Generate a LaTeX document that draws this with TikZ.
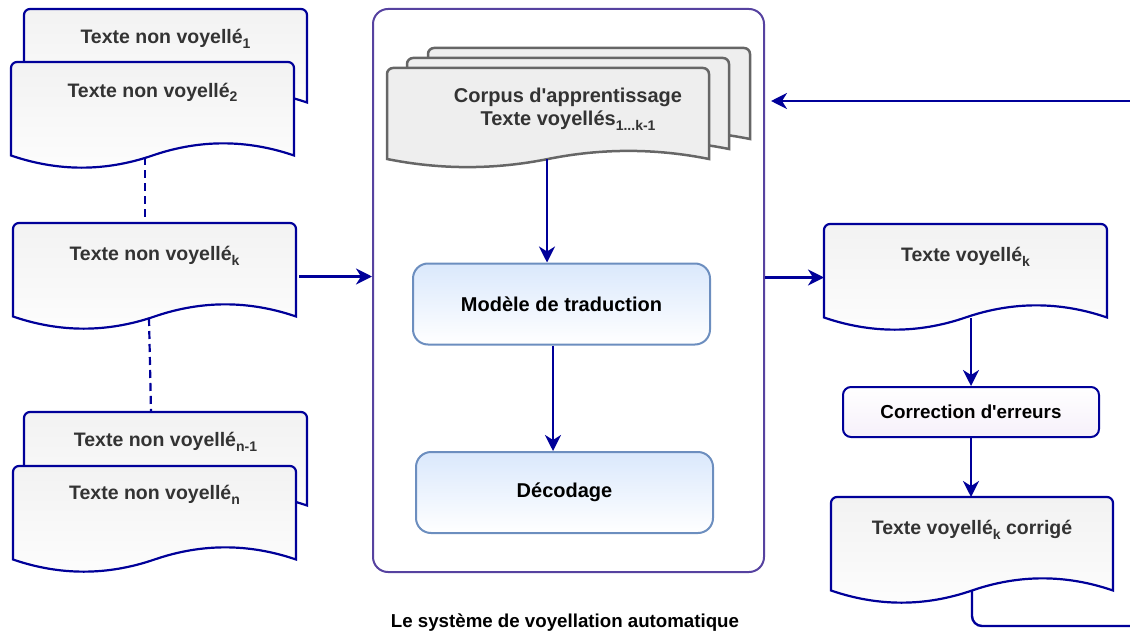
\documentclass[tikz,border=0pt]{standalone}
\usepackage{fontspec}
\setmainfont{Liberation Sans}
\newfontfamily\lsans{Liberation Sans}[Ligatures=Common]
\usetikzlibrary{arrows.meta,calc}
\definecolor{navy}{RGB}{0,0,153}
\definecolor{contLine}{RGB}{86,66,160}
\definecolor{corpLine}{RGB}{102,102,102}
\definecolor{corpFill}{RGB}{238,238,238}
\definecolor{docTop}{RGB}{242,242,242}
\definecolor{docBot}{RGB}{253,253,253}
\definecolor{txtgray}{RGB}{51,51,51}
\definecolor{modelLine}{RGB}{108,142,191}
\definecolor{modelTop}{RGB}{218,232,252}
\definecolor{corrBot}{RGB}{246,240,250}
\newcommand{\subs}[1]{\raisebox{-5pt}{\fontsize{14}{14}\selectfont #1}}
% name, style, x, y, w, h, dy
\newcommand{\docshp}[7]{%
  \draw[#2] (#3,{#4+#6-0.5*#7}) -- (#3,{#4+6}) arc[start angle=180,end angle=270,radius=6]
    -- ({#3+#5-6},#4) arc[start angle=270,end angle=360,radius=6]
    -- ({#3+#5},{#4+#6-0.5*#7})
    .. controls ({#3+#5*5/6},{#4+#6-1.1*#7}) and ({#3+#5*2/3},{#4+#6-1.1*#7}) .. ({#3+#5/2},{#4+#6-0.5*#7})
    .. controls ({#3+#5/3},{#4+#6+0.1*#7}) and ({#3+#5/6},{#4+#6+0.1*#7}) .. (#3,{#4+#6-0.5*#7}) -- cycle;
  \node[frame, minimum width=#5pt, minimum height=#6pt] (#1) at ({#3+#5/2},{#4+#6/2}) {};}
\tikzset{
  docstyle/.style={draw=navy, line width=2.2pt, top color=docTop, bottom color=docBot},
  corpstyle/.style={draw=corpLine, line width=2.5pt, fill=corpFill},
  frame/.style={draw=none, inner sep=0pt, outer sep=0pt, rectangle},
  doctext/.style={font=\bfseries\fontsize{19.5}{22}\selectfont, text=txtgray, anchor=base, inner sep=0pt},
  conn/.style={draw=navy, line width=2.4pt},
  arr/.style={conn, -{Stealth[length=16pt,width=16pt,inset=5pt]}},
  dashconn/.style={draw=navy, line width=2.2pt, dash pattern=on 8pt off 5pt},
  procbox/.style={draw=modelLine, line width=2pt, rounded corners=15pt, top color=modelTop, bottom color=white,
    minimum width=297pt, minimum height=81pt, inner sep=0pt, font=\bfseries\fontsize{20}{22}\selectfont, text=black},
  corrbox/.style={draw=navy, line width=2pt, rounded corners=8pt, top color=white, bottom color=corrBot,
    minimum width=256pt, minimum height=50pt, inner sep=0pt, font=\lsans\bfseries\fontsize{18.8}{21}\selectfont, text=black},
  contbox/.style={draw=contLine, line width=2pt, rounded corners=15pt, minimum width=391pt, minimum height=563pt, inner sep=0pt},
}
\begin{document}
\begin{tikzpicture}[x=1pt,y=-1pt]
\useasboundingbox (0,0) rectangle (1130,634);
% container
\node[contbox] (cont) at (568.5,290.5) {};
\node[font=\bfseries\fontsize{18.7}{21}\selectfont, anchor=base, inner sep=0pt] (cap) at (565,627) {Le système de voyellation automatique};
% corpus (multi-document)
\docshp{corpc}{corpstyle}{428}{48}{322}{100}{18}
\docshp{corpb}{corpstyle}{407}{58}{322}{100}{18}
\docshp{corp}{corpstyle}{387}{68}{322}{100}{18}
\node[font=\lsans\bfseries\fontsize{20}{22.5}\selectfont, text=txtgray, align=center, inner sep=0pt] (corpt) at (568,109.5)
  {Corpus d'apprentissage\\Texte voyellés\subs{1...k-1}};
% left documents
\docshp{d1}{docstyle}{24}{9}{283}{107}{27}
\node[doctext] (d1t) at (165.5,43.3) {Texte non voyellé\subs{1}};
\docshp{d2}{docstyle}{11}{62}{283}{107}{27}
\node[doctext] (d2t) at (152.5,97) {Texte non voyellé\subs{2}};
\docshp{dk}{docstyle}{13}{223}{283}{107}{27}
\node[doctext] (dkt) at (154.5,260) {Texte non voyellé\subs{k}};
\docshp{dn1}{docstyle}{24}{412}{283}{107}{27}
\node[doctext] (dn1t) at (165.5,446.7) {Texte non voyellé\subs{n-1}};
\docshp{dn}{docstyle}{13}{466}{283}{107}{27}
\node[doctext] (dnt) at (154.5,499.3) {Texte non voyellé\subs{n}};
% right documents
\docshp{tvk}{docstyle}{824}{224}{283}{107}{27}
\node[doctext] (tvkt) at (965.5,261) {Texte voyellé\subs{k}};
\docshp{corg}{docstyle}{831}{497}{282}{107}{27}
\node[doctext] (corgt) at (972,534) {Texte voyellé\subs{k} corrigé};
% process boxes
\node[procbox] (model) at (561.5,304) {Modèle de traduction};
\node[procbox] (dec) at (564.5,492.5) {Décodage};
\node[corrbox] (corr) at (971,412) {Correction d'erreurs};
% dashed links
\coordinate (da) at ($(d2.south)+(-7.5,-12)$);
\draw[dashconn] (da) -- (da |- dk.north);
\draw[dashconn] ($(dk.south)+(-5.5,-12)$) -- ($(dn1.north)+(-14.5,0)$);
% arrows
\coordinate (cpo) at ($(corp.south)+(-1,-9)$);
\draw[arr] (cpo) -- (cpo |- model.north);
\coordinate (mdo) at ($(model.south)+(-8.5,0)$);
\draw[arr] (mdo) -- (mdo |- dec.north);
\draw[arr] ($(dk.east)+(3,0)$) -- (dk.east -| cont.west);
\draw[arr] (tvk.west -| cont.east) -- (tvk.west);
\draw[arr] ($(corr.north |- tvk.south)+(0,-13)$) -- (corr.north);
\draw[arr] (corr.south) -- (corr.south |- corg.north);
\coordinate (fbout) at (1130,626);
\coordinate (fbin) at (1130,101);
\draw[conn, rounded corners=10pt] ($(corg.south)+(0,-13.5)$) |- (fbout);
\draw[arr] (fbin) -- ($(fbin -| cont.east)+(6,0)$);
\end{tikzpicture}
\end{document}
